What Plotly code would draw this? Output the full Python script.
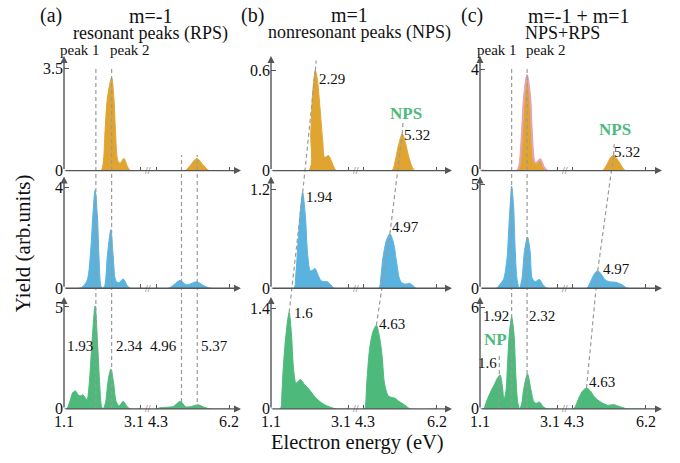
import plotly.graph_objects as go

W, H = 680, 463
GOLD = "#E0A530"
BLUE = "#5AB3DF"
GREEN = "#4DBA7C"
PINK = "#E8A2B6"
AXC = "#555555"
GUIDE = "#9a9a9a"
FONT = "Liberation Serif, Times New Roman, serif"

# ---------------- data (energy in eV, yield in arb. units) ----------------
# (a) m=-1, resonant peaks
E_a1 = [1.1, 2.06, 2.12, 2.17, 2.23, 2.34, 2.40, 2.44, 2.50, 2.56, 2.66, 2.75, 2.83, 3.1,
        4.3, 5.05, 5.20, 5.36, 5.52, 5.68, 6.2]
Y_a1 = [0, 0, 0.25, 1.38, 2.49, 3.2, 2.49, 1.38, 0.35, 0.25, 0.42, 0.15, 0, 0,
        0, 0, 0.2, 0.42, 0.2, 0, 0]
E_a2 = [1.1, 1.5, 1.6, 1.71, 1.80, 1.85, 1.91, 1.97, 2.01, 2.06, 2.10, 2.16, 2.23, 2.32, 2.38,
        2.45, 2.53, 2.64, 2.75, 2.83, 3.1,
        4.3, 4.62, 4.76, 4.92, 5.08, 5.20, 5.36, 5.52, 5.72, 6.2]
Y_a2 = [0, 0, 0.08, 0.35, 1.6, 2.87, 3.9, 2.87, 1.3, 0.1, 0, 0.1, 1.3, 2.33, 1.3,
        0.3, 0.22, 0.37, 0.1, 0, 0,
        0, 0, 0.14, 0.31, 0.14, 0.18, 0.26, 0.12, 0, 0]
E_a3 = [1.1, 1.17, 1.25, 1.33, 1.40, 1.47, 1.53, 1.59, 1.65, 1.70, 1.76, 1.82, 1.91, 1.98,
        2.03, 2.08, 2.12, 2.18, 2.25, 2.32, 2.39, 2.46, 2.54, 2.64, 2.74, 2.83, 3.1,
        4.3, 4.40, 4.55, 4.75, 4.93, 5.07, 5.22, 5.39, 5.55, 5.72, 6.2]
Y_a3 = [0, 0, 0.35, 0.8, 0.88, 0.68, 0.64, 0.69, 0.55, 0.45, 1.3, 3.0, 5.05, 3.0,
        1.2, 0.1, 0, 0.3, 1.4, 1.96, 1.3, 0.35, 0.15, 0.37, 0.12, 0, 0,
        0, 0.05, 0.08, 0.12, 0.37, 0.1, 0.12, 0.2, 0.08, 0, 0]
# (b) m=1, nonresonant peaks
E_b1 = [1.1, 2.08, 2.13, 2.18, 2.25, 2.30, 2.35, 2.44, 2.49, 2.59, 2.66, 2.79, 3.1,
        4.3, 5.03, 5.12, 5.19, 5.30, 5.38, 5.45, 5.56, 5.63, 6.2]
Y_b1 = [0, 0, 0.22, 0.47, 0.6, 0.55, 0.43, 0.18, 0.08, 0.09, 0.06, 0, 0,
        0, 0, 0.06, 0.14, 0.22, 0.17, 0.1, 0.02, 0, 0]
E_b2 = [1.1, 1.69, 1.74, 1.79, 1.85, 1.92, 1.99, 2.05, 2.12, 2.18, 2.24, 2.31, 2.40, 2.48,
        2.56, 2.65, 2.74, 3.1,
        4.3, 4.69, 4.75, 4.80, 4.89, 4.98, 5.07, 5.15, 5.22, 5.28, 5.38, 5.49, 5.58, 5.66, 6.2]
Y_b2 = [0, 0, 0.15, 0.49, 0.88, 1.16, 0.88, 0.41, 0.21, 0.22, 0.24, 0.17, 0.09, 0.08,
        0.08, 0.04, 0, 0,
        0, 0, 0.15, 0.37, 0.58, 0.66, 0.56, 0.33, 0.13, 0.07, 0.05, 0.06, 0.03, 0, 0]
E_b3 = [1.1, 1.34, 1.38, 1.42, 1.49, 1.57, 1.63, 1.68, 1.75, 1.86, 1.97, 2.09, 2.22, 2.35,
        2.48, 2.61, 2.79, 3.1,
        4.3, 4.33, 4.38, 4.45, 4.54, 4.63, 4.71, 4.78, 4.84, 4.94, 5.03, 5.11, 5.20, 5.29,
        5.40, 5.50, 6.2]
Y_b3 = [0, 0, 0.2, 0.59, 1.05, 1.35, 1.05, 0.59, 0.36, 0.41, 0.34, 0.27, 0.18, 0.11,
        0.06, 0.03, 0, 0,
        0, 0, 0.36, 0.82, 1.08, 1.17, 1.01, 0.73, 0.36, 0.18, 0.16, 0.15, 0.11, 0.08,
        0.04, 0, 0]
# (c) m=-1 + m=1
E_c1 = [1.1, 2.06, 2.12, 2.19, 2.24, 2.32, 2.40, 2.44, 2.50, 2.55, 2.66, 2.75, 2.84, 3.1,
        4.3, 5.07, 5.13, 5.20, 5.28, 5.36, 5.44, 5.52, 5.62, 5.68, 6.2]
Y_c1 = [0, 0, 0.2, 1.58, 2.87, 3.77, 2.87, 1.58, 0.4, 0.28, 0.45, 0.15, 0, 0,
        0, 0, 0.1, 0.28, 0.52, 0.61, 0.48, 0.3, 0.06, 0, 0]
E_c2 = [1.1, 1.52, 1.62, 1.71, 1.80, 1.84, 1.88, 1.92, 1.97, 2.01, 2.06, 2.12, 2.19, 2.25,
        2.33, 2.40, 2.45, 2.53, 2.64, 2.74, 2.84, 3.1,
        4.3, 4.66, 4.79, 4.87, 4.95, 5.05, 5.13, 5.24, 5.42, 5.59, 5.72, 6.2]
Y_c2 = [0, 0, 0.2, 0.43, 1.45, 2.7, 3.98, 4.93, 3.98, 1.93, 0.43, 0, 0.5, 1.77,
        2.48, 1.77, 0.5, 0.32, 0.43, 0.15, 0, 0,
        0, 0, 0.43, 0.72, 0.85, 0.66, 0.43, 0.32, 0.29, 0.16, 0, 0]
E_c3 = [1.1, 1.19, 1.27, 1.36, 1.49, 1.55, 1.62, 1.68, 1.72, 1.77, 1.81, 1.86, 1.92, 1.98,
        2.03, 2.08, 2.13, 2.18, 2.23, 2.33, 2.42, 2.49, 2.55, 2.64, 2.74, 2.84, 3.1,
        4.3, 4.33, 4.40, 4.46, 4.55, 4.66, 4.77, 4.85, 4.94, 5.07, 5.20, 5.37, 5.50, 5.63,
        5.72, 6.2]
Y_c3 = [0, 0, 0.45, 0.94, 1.53, 1.82, 2.02, 1.33, 0.6, 1.0, 2.5, 4.47, 5.45, 4.47,
        1.92, 0.35, 0, 0.3, 1.14, 2.08, 1.14, 0.45, 0.33, 0.41, 0.12, 0, 0,
        0, 0, 0.3, 0.65, 1.04, 1.24, 1.04, 0.75, 0.55, 0.35, 0.22, 0.25, 0.15, 0.05,
        0, 0]

X_TICK_E = [1.1, 3.1, 4.3, 6.2]
X_TICK_TEXT = ["1.1", "3.1", "4.3", "6.2"]
Y_TICKS = [[3.5, 0.6, 4], [4, 1.2, 5], [5, 1.4, 6]]
Y_TICK_TEXT = [["3.5", "0.6", "4"], ["4", "1.2", "5"], ["5", "1.4", "6"]]

# ---------------- broken energy axis ----------------
E_LO, E_HI, GAP = 3.1, 4.3, 0.4


def disp(e):
    return e - 1.1 if e <= E_LO else e - E_HI + (E_LO - 1.1) + GAP


# ---------------- layout geometry ----------------
col_px = [(64, 241), (271, 452), (480, 662)]
row_px = [(57, 174), (180, 294), (303, 417)]
px_per_unit = [38.4, 38.6, 38.6]
xmax = [(c[1] - c[0]) / s for c, s in zip(col_px, px_per_unit)]
ymax = [[3.94, 0.688, 4.52], [4.43, 1.354, 5.40], [5.48, 1.564, 6.64]]


def kid(r, c):
    return r * 3 + c + 1


def to_paper(r, c, e, v):
    x0, x1 = col_px[c]
    y0, y1 = row_px[r]
    px = x0 + disp(e) / xmax[c] * (x1 - x0)
    py = y1 - v / ymax[r][c] * (y1 - y0)
    return px / W, 1 - py / H


fig = go.Figure()

panels = [
    (0, 0, E_a1, Y_a1, GOLD), (1, 0, E_a2, Y_a2, BLUE), (2, 0, E_a3, Y_a3, GREEN),
    (0, 1, E_b1, Y_b1, GOLD), (1, 1, E_b2, Y_b2, BLUE), (2, 1, E_b3, Y_b3, GREEN),
    (0, 2, E_c1, Y_c1, GOLD), (1, 2, E_c2, Y_c2, BLUE), (2, 2, E_c3, Y_c3, GREEN),
]

for r, c, E, Y, col in panels:
    k = kid(r, c)
    for lo, hi in [(0, E_LO), (E_HI, 99)]:
        xs = [disp(e) for e in E if lo <= e <= hi]
        ys = [y for e, y in zip(E, Y) if lo <= e <= hi]
        fig.add_trace(go.Scatter(
            x=xs, y=ys, mode="lines", fill="tozeroy", fillcolor=col,
            line=dict(color=col, width=1, shape="spline", smoothing=0.8),
            xaxis="x%d" % k if k > 1 else "x", yaxis="y%d" % k if k > 1 else "y",
            hoverinfo="skip", showlegend=False))
    if (r, c) == (0, 2):
        xs = [disp(e) for e in E if e <= E_LO]
        ys = [y for e, y in zip(E, Y) if e <= E_LO]
        fig.add_trace(go.Scatter(
            x=xs, y=ys, mode="lines",
            line=dict(color=PINK, width=2, shape="spline", smoothing=0.8),
            xaxis="x3", yaxis="y3", hoverinfo="skip", showlegend=False))

layout = dict(width=W, height=H, margin=dict(l=0, r=0, t=0, b=0),
              paper_bgcolor="white", plot_bgcolor="white", showlegend=False,
              font=dict(family=FONT, size=15, color="#111"))
annotations = []
shapes = []

for r in range(3):
    for c in range(3):
        k = kid(r, c)
        sx = "" if k == 1 else str(k)
        layout["xaxis" + sx] = dict(
            domain=[col_px[c][0] / W, col_px[c][1] / W], range=[0, xmax[c]],
            anchor="y" + sx, showline=False, showgrid=False, zeroline=False,
            ticks="inside", ticklen=4, tickwidth=1.2, tickcolor=AXC,
            tickvals=[disp(e) for e in X_TICK_E[1:]], showticklabels=False,
            fixedrange=True)
        layout["yaxis" + sx] = dict(
            domain=[1 - row_px[r][1] / H, 1 - row_px[r][0] / H],
            range=[0, ymax[r][c]], anchor="x" + sx, showline=False,
            showgrid=False, zeroline=False, ticks="inside", ticklen=5,
            tickwidth=1.2, tickcolor=AXC,
            tickvals=[0, Y_TICKS[r][c]], ticktext=["0", Y_TICK_TEXT[r][c]],
            tickfont=dict(family=FONT, size=16, color="#111"), fixedrange=True)
        xr, yr = "x" + sx, "y" + sx
        # axis arrows
        annotations.append(dict(x=xmax[c], y=0, ax=0, ay=0, xref=xr, yref=yr,
                                axref=xr, ayref=yr, text="", showarrow=True,
                                arrowhead=2, arrowsize=1.0, arrowwidth=1.4,
                                arrowcolor=AXC, standoff=0, startstandoff=0))
        annotations.append(dict(x=0, y=ymax[r][c], ax=0, ay=0, xref=xr, yref=yr,
                                axref=xr, ayref=yr, text="", showarrow=True,
                                arrowhead=2, arrowsize=1.0, arrowwidth=1.4,
                                arrowcolor=AXC, standoff=0, startstandoff=0))
        # axis break mark
        annotations.append(dict(x=(disp(E_LO) + disp(E_HI)) / 2, y=0, xref=xr, yref=yr,
                                text="//", showarrow=False, font=dict(size=10, color=AXC),
                                xanchor="center", yanchor="middle"))
        # bottom-row x tick labels
        if r == 2:
            for e, t in zip(X_TICK_E, X_TICK_TEXT):
                if t == "3.1":
                    xa, xv = "right", disp(E_LO) + 0.10
                elif t == "4.3":
                    xa, xv = "left", disp(E_LO) + 0.15
                else:
                    xa, xv = "center", disp(e)
                annotations.append(dict(x=xv, y=1 - 430 / H, xref=xr, yref="paper",
                                        text=t, showarrow=False, xanchor=xa,
                                        yanchor="middle", borderpad=0,
                                        font=dict(family=FONT, size=16, color="#111")))

# ---------------- dashed guide lines ----------------
GUIDE_STYLE = dict(color=GUIDE, width=1.2, dash="4px,3px")
vertical_guides = [  # (col, energy, top row, top value, bottom row)
    (0, 1.93, 0, 3.55, 2), (0, 2.34, 0, 3.55, 2), (0, 4.96, 0, 0.54, 2), (0, 5.37, 0, 0.54, 2),
    (2, 1.92, 0, 4.05, 2), (2, 2.32, 0, 4.05, 2), (2, 1.60, 2, 3.3, 2),
]
for c, e, rt, vt, rb in vertical_guides:
    x0, y0 = to_paper(rb, c, e, 0)
    x1, y1 = to_paper(rt, c, e, vt)
    shapes.append(dict(type="line", xref="paper", yref="paper", x0=x0, y0=y0,
                       x1=x1, y1=y1, line=GUIDE_STYLE))

slanted_guides = [  # lists of (row, energy, value), in column
    (1, [(2, 1.57, 1.35), (1, 1.92, 1.16), (0, 2.25, 0.6), (0, 2.27, 0.66)]),
    (1, [(2, 4.63, 1.17), (1, 4.98, 0.66), (0, 5.30, 0.22), (0, 5.32, 0.29)]),
    (2, [(2, 4.66, 1.24), (1, 4.95, 0.85), (0, 5.36, 0.61), (0, 5.38, 1.05)]),
]
for c, pts in slanted_guides:
    pp = [to_paper(r, c, e, v) for r, e, v in pts]
    for (x0, y0), (x1, y1) in zip(pp[:-1], pp[1:]):
        shapes.append(dict(type="line", xref="paper", yref="paper", x0=x0, y0=y0,
                           x1=x1, y1=y1, line=GUIDE_STYLE))

# ---------------- peak labels ----------------
peak_labels = [  # (row, col, text, energy, value, xanchor, bold-green)
    (2, 0, "1.93", 1.88, 3.08, "right", False), (2, 0, "2.34", 2.42, 3.08, "left", False),
    (2, 0, "4.96", 4.88, 3.08, "right", False), (2, 0, "5.37", 5.44, 3.08, "left", False),
    (0, 1, "NPS", 2.40, 0.71, "center", True), (0, 1, "2.29", 2.32, 0.55, "left", False),
    (0, 1, "NPS", 5.40, 0.34, "center", True), (0, 1, "5.32", 5.32, 0.215, "left", False),
    (1, 1, "1.94", 1.98, 1.10, "left", False), (1, 1, "4.97", 5.01, 0.74, "left", False),
    (2, 1, "1.6", 1.67, 1.34, "left", False), (2, 1, "4.63", 4.67, 1.19, "left", False),
    (0, 2, "NPS", 5.41, 1.62, "center", True), (0, 2, "5.32", 5.35, 0.75, "left", False),
    (1, 2, "4.97", 5.06, 0.95, "left", False),
    (2, 2, "1.92", 1.88, 5.53, "right", False), (2, 2, "2.32", 2.34, 5.53, "left", False),
    (2, 2, "NP", 1.51, 4.10, "center", True), (2, 2, "1.6", 1.57, 2.70, "right", False),
    (2, 2, "4.63", 4.70, 1.57, "left", False),
]
for r, c, t, e, v, xa, bold in peak_labels:
    k = kid(r, c)
    sx = "" if k == 1 else str(k)
    if bold:
        txt, fnt = "<b>%s</b>" % t, dict(family=FONT, size=17, color=GREEN)
    else:
        txt, fnt = t, dict(family=FONT, size=15, color="#111")
    annotations.append(dict(x=disp(e), y=v, xref="x" + sx, yref="y" + sx, text=txt,
                            showarrow=False, xanchor=xa, yanchor="middle", borderpad=0,
                            font=fnt))

# ---------------- titles ----------------
titles = [  # (text, x px, y px, size)
    ("(a)", 51, 16, 20), ("m=-1", 151, 16, 20), ("resonant peaks (RPS)", 150, 34, 18),
    ("peak 1", 80, 51, 15), ("peak 2", 130, 51, 15),
    ("(b)", 252, 16, 20), ("m=1", 350, 15, 20), ("nonresonant peaks (NPS)", 359, 33, 18),
    ("(c)", 472, 16, 20), ("m=-1 + m=1", 579, 16, 20), ("NPS+RPS", 562, 34, 18),
    ("peak 1", 497, 51, 15), ("peak 2", 546, 51, 15),
    ("Electron energy (eV)", 357, 451, 20.5),
]
for t, x, y, s in titles:
    annotations.append(dict(x=x / W, y=1 - y / H, xref="paper", yref="paper", text=t,
                            showarrow=False, xanchor="center", yanchor="middle",
                            borderpad=0, font=dict(family=FONT, size=s, color="#111")))
annotations.append(dict(x=23 / W, y=1 - 248 / H, xref="paper", yref="paper",
                        text="Yield (arb.units)", showarrow=False, textangle=-90,
                        xanchor="center", yanchor="middle", borderpad=0,
                        font=dict(family=FONT, size=21, color="#111")))

layout["annotations"] = annotations
layout["shapes"] = shapes
fig.update_layout(**layout)
fig.write_html("out.html")
